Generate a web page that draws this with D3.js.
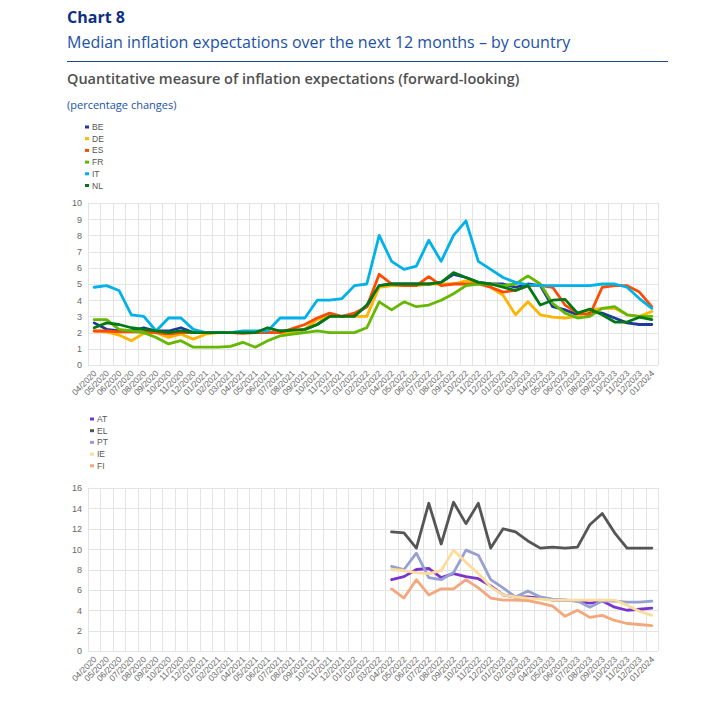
<!DOCTYPE html>
<html>
<head>
<meta charset="utf-8">
<script src="https://cdn.jsdelivr.net/npm/d3@7"></script>
<style>
  body { margin: 0; background: #fff; }
  svg { display: block; }
</style>
</head>
<body>
<div id="chart"></div>
<script>
// Data
var months = ["04/2020","05/2020","06/2020","07/2020","08/2020","09/2020","10/2020","11/2020","12/2020",
  "01/2021","02/2021","03/2021","04/2021","05/2021","06/2021","07/2021","08/2021","09/2021","10/2021","11/2021","12/2021",
  "01/2022","02/2022","03/2022","04/2022","05/2022","06/2022","07/2022","08/2022","09/2022","10/2022","11/2022","12/2022",
  "01/2023","02/2023","03/2023","04/2023","05/2023","06/2023","07/2023","08/2023","09/2023","10/2023","11/2023","12/2023",
  "01/2024"];

var topCountries = ["BE", "DE", "ES", "FR", "IT", "NL"];
var BE = [2.6,2.2,2.1,2.1,2.3,2.1,2.1,2.3,2.0,2.0,2.0,2.0,2.0,2.0,2.0,2.1,2.0,2.2,2.5,3.0,3.0,3.1,3.6,4.9,5.0,5.0,5.0,5.0,5.1,5.6,5.4,5.1,5.0,5.0,4.8,5.0,4.9,3.6,3.4,3.1,3.3,3.2,2.9,2.6,2.5,2.5];
var DE = [2.1,2.05,1.85,1.5,1.95,2.0,1.7,1.9,1.6,1.9,2.0,2.0,2.0,2.0,2.0,2.0,2.0,2.2,2.8,3.0,3.0,3.0,3.0,4.8,4.9,4.9,4.9,5.0,5.0,5.0,5.2,5.1,4.8,4.3,3.1,3.9,3.1,2.95,2.9,3.0,3.4,3.5,3.5,3.1,3.0,3.3];
var ES = [2.1,2.1,2.05,2.05,2.05,2.0,1.9,2.0,2.0,2.0,2.0,2.0,1.95,2.0,2.0,2.0,2.25,2.5,2.9,3.2,3.0,3.2,3.6,5.6,5.0,4.9,4.9,5.45,4.9,5.0,5.0,5.0,4.8,4.5,4.6,4.9,4.9,4.8,3.7,3.2,3.1,4.8,4.9,4.9,4.5,3.6];
var FR = [2.8,2.8,2.2,2.1,2.0,1.7,1.3,1.5,1.1,1.1,1.1,1.15,1.4,1.1,1.5,1.8,1.9,2.0,2.1,2.0,2.0,2.0,2.3,3.9,3.4,3.9,3.6,3.7,4.0,4.4,4.9,5.0,5.0,4.9,5.0,5.5,5.0,3.8,3.2,2.9,3.0,3.5,3.6,3.1,3.0,3.0];
var IT = [4.8,4.9,4.6,3.1,3.0,2.1,2.9,2.9,2.2,2.0,2.0,2.0,2.1,2.1,2.1,2.9,2.9,2.9,4.0,4.0,4.1,4.9,5.0,8.0,6.4,5.9,6.1,7.7,6.4,8.0,8.9,6.4,5.9,5.4,5.1,4.95,4.9,4.9,4.9,4.9,4.9,5.0,5.0,4.8,4.1,3.5];
var NL = [2.3,2.6,2.5,2.3,2.2,2.1,2.0,2.1,2.0,2.0,2.0,2.0,2.0,2.0,2.3,2.1,2.15,2.2,2.5,3.0,3.0,3.0,3.7,4.9,5.0,5.0,5.0,5.0,5.1,5.7,5.4,5.1,5.0,4.8,4.6,4.9,3.7,4.0,4.05,3.2,3.45,3.1,2.65,2.65,2.95,2.8];
var topColors = ["#1c3a9c", "#ffb400", "#ff4b00", "#65b800", "#00b1ea", "#007816"];

// bottom panel only has data from 04/2022
var bottomCountries = ["AT", "EL", "PT", "IE", "FI"];
var AT = [null,null,null,null,null,null,null,null,null,null,null,null,null,null,null,null,null,null,null,null,null,null,null,null,
  7.0,7.3,8.0,8.1,7.2,7.6,7.3,7.1,6.4,5.5,5.3,5.3,5.2,5.0,5.0,4.9,4.7,4.9,4.3,4.0,4.1,4.2];
var EL = [null,null,null,null,null,null,null,null,null,null,null,null,null,null,null,null,null,null,null,null,null,null,null,null,
  11.7,11.6,10.1,14.5,10.5,14.6,12.5,14.5,10.1,12.0,11.7,10.8,10.1,10.2,10.1,10.2,12.4,13.5,11.6,10.1,10.1,10.1];
var PT = [null,null,null,null,null,null,null,null,null,null,null,null,null,null,null,null,null,null,null,null,null,null,null,null,
  8.3,8.0,9.6,7.2,7.0,7.7,9.9,9.4,7.0,6.2,5.3,5.9,5.3,5.1,5.0,4.9,4.3,4.9,4.9,4.8,4.8,4.9];
var IE = [null,null,null,null,null,null,null,null,null,null,null,null,null,null,null,null,null,null,null,null,null,null,null,null,
  8.0,7.9,7.7,7.6,7.9,9.9,8.7,7.6,6.3,5.5,5.3,5.2,5.1,5.0,5.0,5.0,5.0,5.0,5.0,4.5,3.9,3.5];
var FI = [null,null,null,null,null,null,null,null,null,null,null,null,null,null,null,null,null,null,null,null,null,null,null,null,
  6.1,5.2,7.0,5.5,6.1,6.1,7.0,6.2,5.2,5.0,5.0,4.95,4.7,4.4,3.4,4.0,3.3,3.5,3.0,2.7,2.6,2.5];
var bottomColors = ["#7b35cc", "#555555", "#97a0d3", "#fbdc9a", "#f4a77c"];

var topTicks = [0,1,2,3,4,5,6,7,8,9,10];
var bottomTicks = [0,2,4,6,8,10,12,14,16];

var width = 725, height = 717;
var axisFont = "'Liberation Sans', Arial, sans-serif";
var titleFont = "'Open Sans', 'Noto Sans', sans-serif";

var svg = d3.select("#chart").append("svg")
  .attr("width", width)
  .attr("height", height);

// headings
svg.append("text").attr("x", 67).attr("y", 23)
  .style("font-family", titleFont).style("font-size", "16px").style("font-weight", "bold")
  .style("fill", "#0e2f86").text("Chart 8");
svg.append("text").attr("x", 67).attr("y", 48)
  .style("font-family", titleFont).style("font-size", "16px")
  .style("fill", "#2152a8").text("Median inflation expectations over the next 12 months \u2013 by country");
svg.append("line").attr("x1", 67).attr("x2", 668).attr("y1", 61.5).attr("y2", 61.5)
  .style("stroke", "#22458f").style("stroke-width", 1);
svg.append("text").attr("x", 67).attr("y", 84)
  .style("font-family", titleFont).style("font-size", "14.5px").style("font-weight", "600")
  .style("fill", "#505050").text("Quantitative measure of inflation expectations (forward-looking)");
svg.append("text").attr("x", 67).attr("y", 109)
  .style("font-family", titleFont).style("font-size", "11px")
  .style("fill", "#2152a8").text("(percentage changes)");

var x = d3.scaleBand()
  .domain(months)
  .range([88, 658])
  .padding(0);

function drawPanel(opts) {
  var y = d3.scaleLinear()
    .domain([0, opts.max])
    .range([opts.bottom, opts.top]);

  var g = svg.append("g");

  // legend
  var leg = g.selectAll(".leg")
    .data(opts.names)
    .enter().append("g")
    .attr("transform", function(d, i) { return "translate(" + opts.legendX + "," + (opts.legendY + i * 11.7) + ")"; });
  leg.append("rect")
    .attr("x", 0).attr("y", -1.5).attr("width", 4).attr("height", 3)
    .style("fill", function(d, i) { return opts.colors[i]; });
  leg.append("text")
    .attr("x", 7).attr("y", 3)
    .style("font-family", axisFont).style("font-size", "8.5px").style("fill", "#555")
    .text(function(d) { return d; });

  // grid: horizontal lines on ticks, vertical lines between categories
  g.append("g").selectAll("line")
    .data(opts.ticks)
    .enter().append("line")
    .attr("x1", 88).attr("x2", 658)
    .attr("y1", function(d) { return Math.round(y(d)) + 0.5; })
    .attr("y2", function(d) { return Math.round(y(d)) + 0.5; })
    .style("stroke", "#e3e3e3");
  var bounds = months.map(function(m) { return x(m); }).concat([x.range()[1]]);
  g.append("g").selectAll("line")
    .data(bounds)
    .enter().append("line")
    .attr("x1", function(d) { return Math.round(d) + 0.5; })
    .attr("x2", function(d) { return Math.round(d) + 0.5; })
    .attr("y1", opts.top).attr("y2", opts.bottom)
    .style("stroke", "#e3e3e3");

  // y axis labels
  var yAxis = d3.axisLeft(y).tickValues(opts.ticks).tickSize(0).tickPadding(6);
  var ya = g.append("g").attr("transform", "translate(88,0)").call(yAxis);
  ya.select(".domain").remove();
  ya.selectAll("text").style("font-family", axisFont).style("font-size", "9px").style("fill", "#666");

  // x axis labels, rotated
  var xAxis = d3.axisBottom(x).tickSize(0).tickPadding(0);
  var xa = g.append("g").attr("transform", "translate(0," + opts.bottom + ")").call(xAxis);
  xa.select(".domain").remove();
  xa.selectAll("text")
    .attr("y", 0).attr("dy", 0)
    .attr("transform", "translate(3,9) rotate(-45)")
    .style("text-anchor", "end")
    .style("font-family", axisFont).style("font-size", "8.5px").style("fill", "#666");

  // lines
  var line = d3.line()
    .defined(function(d) { return d.v != null; })
    .x(function(d) { return x(d.m) + x.bandwidth() / 2; })
    .y(function(d) { return y(d.v); });

  opts.series.forEach(function(s, i) {
    var pts = months.map(function(m, j) { return { m: m, v: s[j] }; });
    g.append("path")
      .datum(pts)
      .attr("d", line)
      .style("fill", "none")
      .style("stroke", opts.colors[i])
      .style("stroke-width", 2.8)
      .style("stroke-linejoin", "round")
      .style("stroke-linecap", "round");
  });
}

drawPanel({
  names: topCountries, series: [BE, DE, ES, FR, IT, NL], colors: topColors,
  max: 10, ticks: topTicks, top: 203, bottom: 365, legendX: 85, legendY: 127
});
drawPanel({
  names: bottomCountries, series: [AT, EL, PT, IE, FI], colors: bottomColors,
  max: 16, ticks: bottomTicks, top: 488, bottom: 651, legendX: 90, legendY: 419
});
</script>
</body>
</html>
